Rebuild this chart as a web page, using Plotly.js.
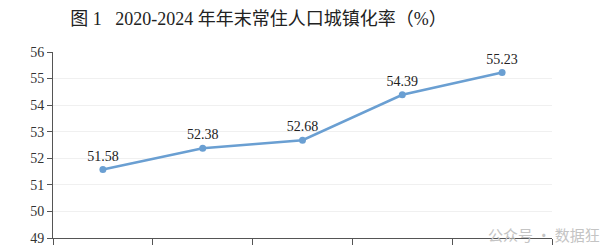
<!DOCTYPE html>
<html><head><meta charset="utf-8">
<script src="https://cdn.plot.ly/plotly-3.0.1.min.js"></script>
<style>html,body{margin:0;padding:0;background:#fff}#c{width:600px;height:248px}</style>
</head><body><div id="c"></div>
<script>
const years = ['2020', '2021', '2022', '2023', '2024'];
const rates = [51.58, 52.38, 52.68, 54.39, 55.23];
const rateLabels = ['51.58', '52.38', '52.68', '54.39', '55.23'];
const yTicks = [49, 50, 51, 52, 53, 54, 55, 56];

const trace = {
  x: years, y: rates, type: 'scatter', mode: 'lines+markers+text',
  line: {color: '#6a9fd2', width: 2.5},
  marker: {color: '#6a9fd2', size: 7},
  text: rateLabels, textposition: 'top center',
  textfont: {family: 'Liberation Serif', size: 14, color: '#222'},
  cliponaxis: false, hoverinfo: 'none'
};
const layout = {
  width: 600, height: 248,
  margin: {l: 53, r: 48, t: 52, b: 10},
  paper_bgcolor: '#fff', plot_bgcolor: '#fff',
  showlegend: false,
  title: {text: '图 1\u2002 2020-2024 年年末常住人口城镇化率（%）', xref: 'container', x: 0.117, xanchor: 'left',
    yref: 'container', y: 0.925, yanchor: 'middle',
    font: {family: 'Liberation Serif, Noto Sans CJK SC', size: 18, color: '#222'}},
  xaxis: {type: 'category', showticklabels: false, ticks: 'outside', tickson: 'boundaries', ticklen: 6,
    tickcolor: '#555', showline: true, linecolor: '#555', linewidth: 1, showgrid: false, zeroline: false,
    range: [-0.5, 4.5]},
  yaxis: {range: [49, 56], tickvals: yTicks, ticks: 'outside', ticklen: 5, tickcolor: '#555',
    showline: true, linecolor: '#555', linewidth: 1, showgrid: true, gridcolor: '#f0f0f0', zeroline: false,
    tickfont: {family: 'Liberation Serif', size: 14, color: '#333'}},
  annotations: [{text: '公众号 · 数据狂', xref: 'paper', yref: 'paper', x: 1.1, y: -0.05, xanchor: 'right', yanchor: 'bottom',
    showarrow: false, font: {family: 'Noto Sans CJK SC', size: 15, color: '#c4c4c4'}}]
};
Plotly.newPlot('c', [trace], layout, {displayModeBar: false, staticPlot: true});
</script></body></html>
